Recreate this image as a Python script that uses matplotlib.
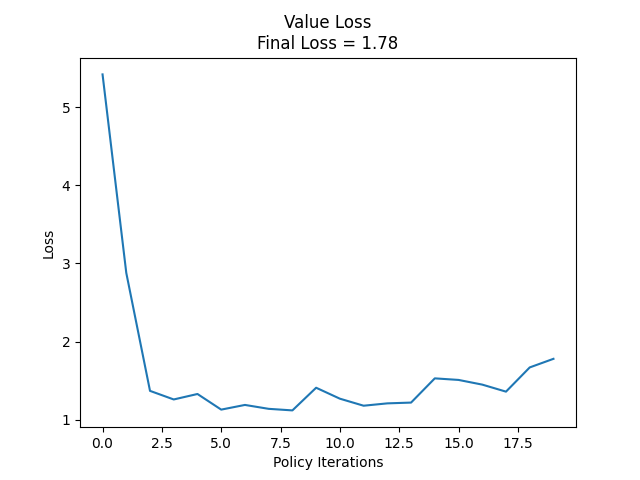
import numpy as np
import matplotlib
matplotlib.use("Agg")
import matplotlib.pyplot as plt

iterations = np.arange(20)
value_loss = [5.42, 2.88, 1.37, 1.26, 1.33, 1.13, 1.19, 1.14, 1.12, 1.41,
              1.27, 1.18, 1.21, 1.22, 1.53, 1.51, 1.45, 1.36, 1.67, 1.78]

fig, ax = plt.subplots(figsize=(6.4, 4.8), dpi=100)
ax.plot(iterations, value_loss)
ax.set_title(f"Value Loss\nFinal Loss = {value_loss[-1]:.2f}")
ax.set_xlabel("Policy Iterations")
ax.set_ylabel("Loss")
fig.savefig("out.png")
